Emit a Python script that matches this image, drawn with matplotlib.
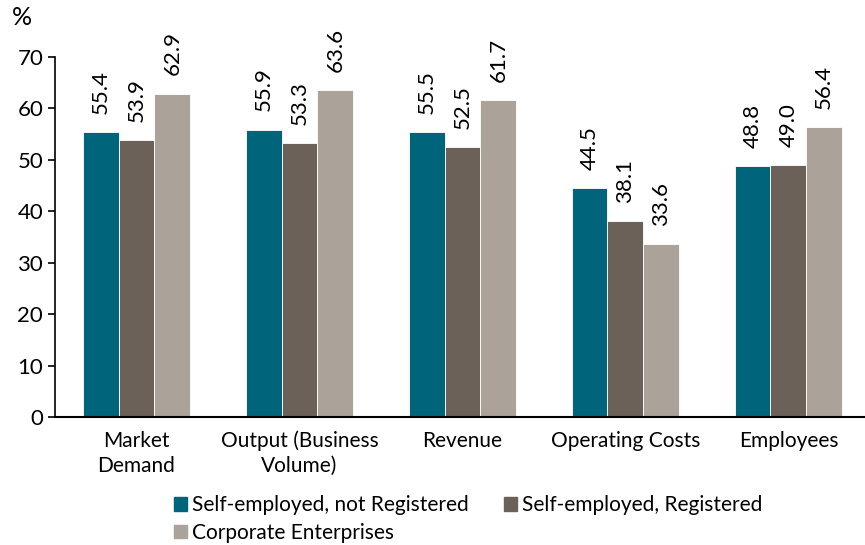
import numpy as np
from matplotlib import pyplot as plt
from matplotlib.patches import Patch

categories = ["Market\nDemand", "Output (Business\nVolume)", "Revenue", "Operating Costs", "Employees"]
not_registered = [55.4, 55.9, 55.5, 44.5, 48.8]
registered = [53.9, 53.3, 52.5, 38.1, 49.0]
corporate = [62.9, 63.6, 61.7, 33.6, 56.4]
series_names = ["Self-employed, not Registered", "Self-employed, Registered", "Corporate Enterprises"]
colors = ["#00657a", "#6b6158", "#aba39a"]

plt.rcParams['font.family'] = ['Lato', 'DejaVu Sans']
plt.rcParams['font.size'] = 15

fig = plt.figure(figsize=(8.65, 5.45), dpi=100)
ax = fig.add_axes([0.0636, 0.2349, 0.9364, 0.6605])

x = np.arange(len(categories))
w = 0.22
for i, (vals, c) in enumerate(zip([not_registered, registered, corporate], colors)):
    pos = x + (i - 1) * w
    ax.bar(pos, vals, width=w, color=c, edgecolor='white', linewidth=0.6)
    for p, v in zip(pos, vals):
        ax.annotate(f"{v:.1f}", (p, v), xytext=(0, 13), textcoords='offset points',
                    rotation=90, ha='center', va='bottom', fontsize=16)

ax.set_xlim(-0.5, 4.47)
ax.set_ylim(0, 70)
ax.set_yticks(range(0, 71, 10))
ax.set_xticks(x)
ax.set_xticklabels(categories, linespacing=1.3)
ax.tick_params(axis='x', length=0, pad=10)
ax.tick_params(axis='y', length=5, width=1.2, direction='out', labelsize=16)
ax.spines['top'].set_visible(False)
ax.spines['right'].set_visible(False)
ax.spines['left'].set_linewidth(1.2)
ax.spines['bottom'].set_linewidth(1.5)

fig.text(0.014, 0.968, "%", fontsize=18, va='center')

handles = [Patch(color=c) for c in colors]
order = [0, 2, 1]
fig.legend([handles[k] for k in order], [series_names[k] for k in order],
           ncol=2, loc='lower left', bbox_to_anchor=(0.18, -0.03), frameon=False,
           handlelength=0.6, handleheight=0.6, handletextpad=0.25, columnspacing=1.7,
           labelspacing=0.35, fontsize=15)

fig.savefig("out.png", dpi=100)
